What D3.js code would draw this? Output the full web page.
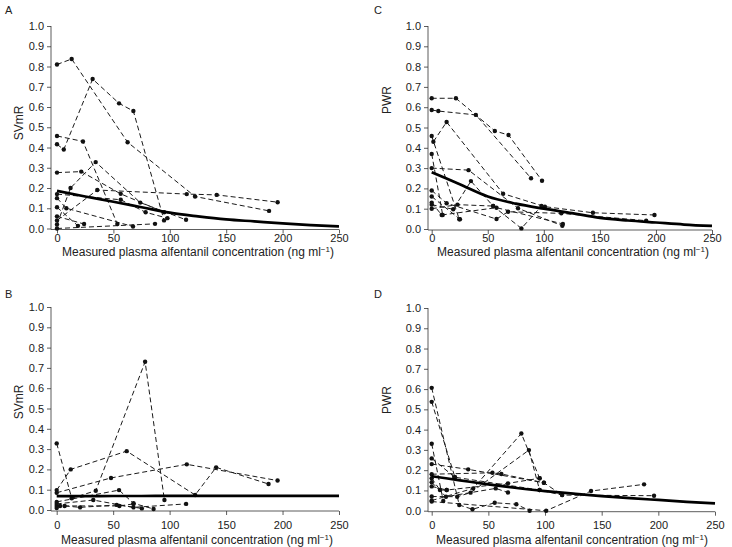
<!DOCTYPE html>
<html>
<head>
<meta charset="utf-8">
<script src="https://cdn.jsdelivr.net/npm/d3@7"></script>
<style>
  body { margin: 0; background: #fff; }
  svg { font-family: "Liberation Sans", Arial, sans-serif; }
  .subject { fill: none; stroke: #1a1a1a; stroke-width: 1; stroke-dasharray: 5,3; }
  .fit { fill: none; stroke: #000; stroke-width: 2.7; }
  .dot { fill: #111; }
  .tick text { font-size: 11px; fill: #1a1a1a; }
  .tick line, .axis-line { stroke: #333; stroke-width: 0.8; }
</style>
</head>
<body>
<div id="chart"></div>
<script>
const xTicks = [0, 50, 100, 150, 200, 250];
const yTicks = [0, 0.1, 0.2, 0.3, 0.4, 0.5, 0.6, 0.7, 0.8, 0.9, 1.0];
const fitX = [0, 25, 50, 75, 100, 125, 150, 175, 200, 225, 250];

// panel A: SVmR, each subject is a list of [concentration, value]
const subjectsA = [
  [[0, 0.81], [13, 0.837], [62.6, 0.426], [122.4, 0.158], [188, 0.087]],
  [[0, 0.416], [6, 0.39], [31.6, 0.738], [55, 0.618], [67.7, 0.58], [94.9, 0.04]],
  [[0, 0.457], [23, 0.43], [53.5, 0.022]],
  [[0, 0.276], [21.5, 0.281], [56.5, 0.171], [95, 0.08]],
  [[0, 0.02], [12, 0.2], [34.3, 0.328], [73.8, 0.128], [114.4, 0.043]],
  [[0, 0.105], [18.6, 0.013]],
  [[0, 0.15], [8.3, 0.1], [67.4, 0.01]],
  [[0, 0.04], [35.7, 0.19], [115, 0.17], [141.6, 0.166], [195.6, 0.13]],
  [[0, 0.17], [56.5, 0.142], [78.6, 0.08], [97.9, 0.051]],
  [[0, 0.06], [24, 0.022]],
  [[0, 0.0], [86.9, 0.023]]
];
const fitA = [0.186, 0.158, 0.132, 0.105, 0.078, 0.06, 0.045, 0.035, 0.025, 0.017, 0.01];

// panel B: SVmR
const subjectsB = [
  [[0, 0.328], [13.3, 0.058], [34.6, 0.095], [78.3, 0.73], [95.4, 0.049]],
  [[0, 0.098], [12.4, 0.2], [62, 0.29], [122.6, 0.074], [141.2, 0.21], [187.6, 0.128]],
  [[0, 0.085], [48.1, 0.158], [115.2, 0.225], [195.6, 0.145]],
  [[0, 0.04], [55.2, 0.098], [68, 0.033], [85.8, 0.005]],
  [[0, 0.02], [7, 0.02], [20.7, 0.013], [53.2, 0.025], [75.4, 0.008]],
  [[0, 0.03], [32.4, 0.049], [68, 0.013], [114.6, 0.03]],
  [[0, 0.01], [3, 0.02], [55.5, 0.02], [68, 0.03]]
];
const fitB = [0.068, 0.068, 0.069, 0.069, 0.07, 0.07, 0.07, 0.07, 0.07, 0.07, 0.07];

// panel C: PWR
const subjectsC = [
  [[0, 0.644], [21.6, 0.644], [56.3, 0.483], [68.5, 0.463], [98.4, 0.238]],
  [[0, 0.586], [5.9, 0.581], [39.4, 0.562], [88.6, 0.25]],
  [[1.5, 0.43], [13.3, 0.527], [63.7, 0.174], [101, 0.11], [143.8, 0.08], [198.7, 0.069]],
  [[0, 0.458], [24.6, 0.048]],
  [[0, 0.3], [32.9, 0.29], [77, 0.102], [116.5, 0.016]],
  [[0, 0.12], [19.2, 0.097], [35, 0.236], [54.8, 0.113], [80, 0.003], [97.9, 0.113]],
  [[0, 0.19], [13.3, 0.127], [57.8, 0.049], [68.1, 0.085], [115.6, 0.077], [191.3, 0.041]],
  [[0, 0.37], [9.8, 0.069]],
  [[0, 0.16], [25.2, 0.048]],
  [[0, 0.13], [8.9, 0.069], [57.8, 0.105], [117, 0.025]],
  [[0, 0.1], [23, 0.12], [54.8, 0.113]]
];
const fitC = [0.28, 0.22, 0.16, 0.125, 0.1, 0.078, 0.055, 0.042, 0.032, 0.022, 0.015];

// panel D: PWR
const subjectsD = [
  [[0, 0.606], [24.3, 0.028], [36, 0.007], [55.6, 0.039], [74.7, 0.032], [86.4, 0]],
  [[0, 0.537], [20.5, 0.165], [95.2, 0.102], [115.1, 0.077], [196.2, 0.074]],
  [[0, 0.23], [32.2, 0.204], [99, 0.138]],
  [[0, 0.33], [10.2, 0.048]],
  [[0, 0.05], [36.6, 0.11], [79.1, 0.381], [95.2, 0.16]],
  [[0, 0.07], [22.5, 0.069], [34.3, 0.089], [85.8, 0.299], [95.2, 0.102]],
  [[0, 0.18], [53.6, 0.187], [61.5, 0.181], [99, 0.138], [115.1, 0.077]],
  [[0, 0.14], [12.6, 0.069], [56.5, 0.11], [67.3, 0.09]],
  [[0, 0.16], [7.3, 0.102], [13.2, 0.102], [67.3, 0.135], [95.2, 0.16]],
  [[0, 0.045], [101, 0], [140.6, 0.097], [187.4, 0.13]],
  [[0, 0.258], [20.5, 0.165]],
  [[0, 0.12], [13.2, 0.102]]
];
const fitD = [0.17, 0.15, 0.13, 0.112, 0.097, 0.084, 0.072, 0.062, 0.053, 0.044, 0.036];

const xTitle = "Measured plasma alfentanil concentration (ng ml";

var panels = [
  { letter: "A", label: "SVmR", subjects: subjectsA, fit: fitA,
    xr: [57, 339], yr: [228.5, 26], axisX: 51, letterPos: [5, 14],
    yLabelPos: [19, 123], tickY: 242, titleY: 256, titleX: 198 },
  { letter: "B", label: "SVmR", subjects: subjectsB, fit: fitB,
    xr: [56.7, 339], yr: [510, 307], axisX: 51, letterPos: [5, 298],
    yLabelPos: [19, 402], tickY: 529, titleY: 544, titleX: 197 },
  { letter: "C", label: "PWR", subjects: subjectsC, fit: fitC,
    xr: [431.7, 712], yr: [229, 26], axisX: 428, letterPos: [374, 14],
    yLabelPos: [387, 100], tickY: 242, titleY: 256, titleX: 573 },
  { letter: "D", label: "PWR", subjects: subjectsD, fit: fitD,
    xr: [431.7, 715], yr: [510.7, 308], axisX: 428, letterPos: [374, 298],
    yLabelPos: [387, 400], tickY: 529, titleY: 544, titleX: 572 }
];

var svg = d3.select("#chart").append("svg")
  .attr("width", 732)
  .attr("height", 547);

panels.forEach(function (p) {
  var x = d3.scaleLinear().domain([0, 250]).range(p.xr);
  var y = d3.scaleLinear().domain([0, 1]).range(p.yr);
  var g = svg.append("g");
  var baseY = y(0) + 1;

  // y axis, a little left of x = 0
  var yAxis = g.append("g")
    .attr("transform", "translate(" + p.axisX + ",0)")
    .call(d3.axisLeft(y).tickValues(yTicks).tickFormat(d3.format(".1f"))
      .tickSize(4).tickSizeOuter(0).tickPadding(3));
  yAxis.select(".domain").remove();
  g.append("line").attr("class", "axis-line")
    .attr("x1", p.axisX).attr("x2", p.axisX)
    .attr("y1", y(1)).attr("y2", baseY);

  // x axis
  var xAxis = g.append("g")
    .attr("transform", "translate(0," + baseY + ")")
    .call(d3.axisBottom(x).tickValues(xTicks).tickSize(4).tickSizeOuter(0).tickPadding(3));
  xAxis.select(".domain").remove();
  xAxis.selectAll(".tick text").attr("y", null).attr("dy", null)
    .attr("transform", "translate(0," + (p.tickY - baseY) + ")");
  g.append("line").attr("class", "axis-line")
    .attr("x1", p.axisX).attr("x2", x(250))
    .attr("y1", baseY).attr("y2", baseY);

  var line = d3.line()
    .x(function (d) { return x(d[0]); })
    .y(function (d) { return y(d[1]); });

  // individual subjects, dashed with dots
  g.selectAll(".subject")
    .data(p.subjects)
    .enter()
    .append("path")
    .attr("class", "subject")
    .attr("d", line);

  g.selectAll(".dot")
    .data(p.subjects.flat())
    .enter()
    .append("circle")
    .attr("class", "dot")
    .attr("cx", function (d) { return x(d[0]); })
    .attr("cy", function (d) { return y(d[1]); })
    .attr("r", 2.2);

  // population fit
  var fitPts = fitX.map(function (v, i) { return [v, p.fit[i]]; });
  g.append("path")
    .attr("class", "fit")
    .attr("d", line.curve(d3.curveMonotoneX)(fitPts));

  // labels
  g.append("text")
    .attr("x", p.letterPos[0]).attr("y", p.letterPos[1])
    .style("font-size", "11px").style("fill", "#222")
    .text(p.letter);

  g.append("text")
    .attr("transform", "translate(" + p.yLabelPos[0] + "," + p.yLabelPos[1] + ") rotate(-90)")
    .attr("text-anchor", "middle")
    .attr("dy", "0.35em")
    .style("font-size", "12px").style("fill", "#222")
    .text(p.label);

  var title = g.append("text")
    .attr("x", p.titleX).attr("y", p.titleY)
    .attr("text-anchor", "middle")
    .style("font-size", "12px").style("fill", "#222");
  title.append("tspan").text(xTitle);
  title.append("tspan").attr("dy", -4).style("font-size", "8px").text("\u22121");
  title.append("tspan").attr("dy", 4).text(")");
});
</script>
</body>
</html>
